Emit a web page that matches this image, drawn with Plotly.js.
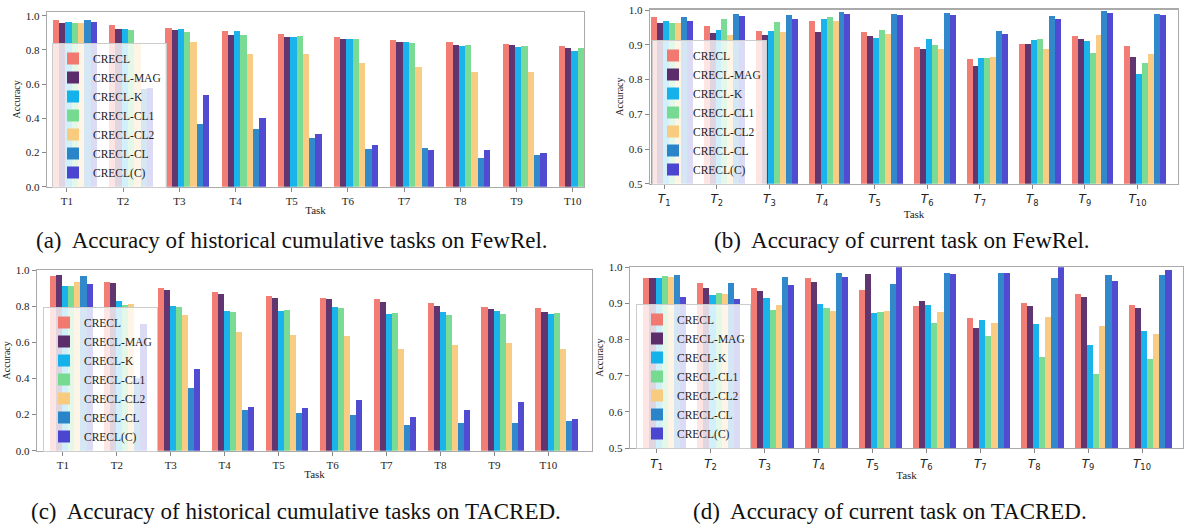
<!DOCTYPE html>
<html>
<head>
<meta charset="utf-8">
<script src="https://cdn.plot.ly/plotly-3.0.1.min.js"></script>
<style>html,body{margin:0;padding:0;background:#fff;}#chart{width:1184px;height:524px;}</style>
</head>
<body>
<div id="chart"></div>
<script>
// ---- Data ----
const tasks = ['T1','T2','T3','T4','T5','T6','T7','T8','T9','T10'];
const seriesNames = ['CRECL','CRECL-MAG','CRECL-K','CRECL-CL1','CRECL-CL2','CRECL-CL','CRECL(C)'];

// (a) historical cumulative tasks, FewRel
const a_CRECL = [0.975,0.945,0.926,0.908,0.893,0.873,0.856,0.844,0.834,0.821];
const a_MAG   = [0.959,0.922,0.916,0.887,0.877,0.867,0.844,0.828,0.827,0.809];
const a_K     = [0.963,0.922,0.920,0.908,0.877,0.864,0.844,0.825,0.815,0.791];
const a_CL1   = [0.955,0.916,0.903,0.889,0.881,0.867,0.840,0.828,0.825,0.809];
const a_CL2   = [0.955,0.838,0.844,0.776,0.776,0.721,0.700,0.671,0.671,null];
const a_CL    = [0.975,0.570,0.368,0.339,0.283,0.218,0.226,0.170,0.185,null];
const a_C     = [0.965,0.580,0.534,0.400,0.306,0.242,0.214,0.214,0.195,null];

// (b) current task, FewRel
const b_CRECL = [0.979,0.955,0.941,0.970,0.937,0.893,0.858,0.902,0.926,0.896];
const b_MAG   = [0.964,0.933,0.929,0.937,0.926,0.887,0.839,0.902,0.918,0.864];
const b_K     = [0.970,0.944,0.940,0.975,0.921,0.918,0.863,0.915,0.910,0.816];
const b_CL1   = [0.962,0.975,0.966,0.979,0.943,0.900,0.863,0.916,0.876,0.848];
const b_CL2   = [0.962,0.928,0.938,0.970,0.930,0.887,0.864,0.887,0.928,0.874];
const b_CL    = [0.979,0.988,0.985,0.996,0.990,0.992,0.940,0.984,0.997,0.988];
const b_C     = [0.968,0.983,0.974,0.988,0.987,0.986,0.932,0.976,0.992,0.986];

// (c) historical cumulative tasks, TACRED
const c_CRECL = [0.969,0.932,0.899,0.880,0.858,0.843,0.838,0.817,0.795,0.788];
const c_MAG   = [0.972,0.928,0.887,0.865,0.847,0.838,0.821,0.803,0.782,0.769];
const c_K     = [0.913,0.828,0.799,0.773,0.773,0.793,0.758,0.769,0.773,0.758];
const c_CL1   = [0.913,0.806,0.793,0.766,0.780,0.790,0.762,0.751,0.758,0.762];
const c_CL2   = [0.932,0.810,0.751,0.655,0.638,0.635,0.563,0.585,0.594,0.563];
const c_CL    = [0.969,0.400,0.349,0.225,0.206,0.197,0.140,0.151,0.155,0.162];
const c_C     = [0.921,0.699,0.450,0.242,0.234,0.279,0.184,0.223,0.269,0.175];

// (d) current task, TACRED
const d_CRECL = [0.970,0.956,0.943,0.970,0.938,0.893,0.859,0.902,0.926,0.897];
const d_MAG   = [0.970,0.943,0.935,0.958,0.981,0.907,0.832,0.893,0.917,0.886];
const d_K     = [0.969,0.924,0.914,0.899,0.873,0.896,0.854,0.842,0.785,0.825];
const d_CL1   = [0.977,0.930,0.883,0.887,0.876,0.845,0.811,0.753,0.705,0.745];
const d_CL2   = [0.972,0.926,0.895,0.878,0.880,0.876,0.847,0.862,0.838,0.815];
const d_CL    = [0.978,0.956,0.974,0.983,0.953,0.983,0.983,0.970,0.979,0.979];
const d_C     = [0.919,0.911,0.952,0.974,1.000,0.982,0.983,1.000,0.961,0.993];

const captions = [
  '(a)  Accuracy of historical cumulative tasks on FewRel.',
  '(b)  Accuracy of current task on FewRel.',
  '(c)  Accuracy of historical cumulative tasks on TACRED.',
  '(d)  Accuracy of current task on TACRED.'
];

// ---- Styling ----
const colors = ['#F27970','#5B2E6B','#14B1EB','#76DA91','#F8CB7F','#2A84C8','#4B45CF'];
const serif = 'Liberation Serif, Times New Roman, serif';

const panels = [
  {series:[a_CRECL,a_MAG,a_K,a_CL1,a_CL2,a_CL,a_C], start:-0.25, w:0.112, math:false},
  {series:[b_CRECL,b_MAG,b_K,b_CL1,b_CL2,b_CL,b_C], start:-0.25, w:0.113, math:true},
  {series:[c_CRECL,c_MAG,c_K,c_CL1,c_CL2,c_CL,c_C], start:-0.24, w:0.113, math:false},
  {series:[d_CRECL,d_MAG,d_K,d_CL1,d_CL2,d_CL,d_C], start:-0.25, w:0.114, math:true}
];

const xpos = tasks.map((t,i)=>i);
const traces = [];
panels.forEach((p,pi)=>{
  const ax = pi===0 ? '' : String(pi+1);
  p.series.forEach((vals,si)=>{
    traces.push({
      type:'bar',
      x: xpos, y: vals,
      name: seriesNames[si],
      xaxis:'x'+ax, yaxis:'y'+ax,
      offset: p.start + si*p.w,
      width: p.w,
      marker:{color:colors[si], opacity:0.97, line:{width:0}},
      legend: pi===0 ? 'legend' : 'legend'+(pi+1),
      showlegend:true,
      hoverinfo:'skip'
    });
  });
});

const W=1184, H=524;
const px = v=>v/W, py = v=>1-v/H;

function xax(domL, domR, range, math, anchor){
  return {
    domain:[px(domL),px(domR)], range:range, anchor:anchor,
    tickvals: xpos,
    ticktext: math ? tasks.map(t=>'<i>T</i><sub>'+t.slice(1)+'</sub>') : tasks,
    tickfont:{family: math ? 'DejaVu Sans, sans-serif' : serif, size: math?12:11, color:'#222'},
    ticks:'outside', ticklen:4, tickcolor:'#888', tickwidth:1,
    showline:true, linecolor:'#aaa', linewidth:1.2, mirror:true,
    showgrid:false, zeroline:false,
    title:{text:'Task', font:{family:serif, size:11, color:'#222'}, standoff:0}
  };
}
function yax(domB, domT, range, dtick, anchor){
  return {
    domain:[py(domB),py(domT)], range:range, anchor:anchor,
    dtick:dtick, tick0:0, tickformat:'.1f',
    tickfont:{family:serif, size:11, color:'#222'},
    ticks:'outside', ticklen:4, tickcolor:'#888', tickwidth:1,
    showline:true, linecolor:'#aaa', linewidth:1.2, mirror:true,
    showgrid:false, zeroline:false,
    title:{text:'Accuracy', font:{family:serif, size:10, color:'#222'}, standoff:3}
  };
}
function leg(xp, yp){
  return {x:px(xp), y:py(yp), xanchor:'left', yanchor:'top',
    bgcolor:'rgba(255,255,255,0.8)', bordercolor:'#ccc', borderwidth:1,
    font:{family:serif, size:11.5, color:'#222'}, tracegroupgap:0, itemwidth:30};
}

const layout = {
  width:W, height:H, margin:{l:0,r:0,t:0,b:0},
  paper_bgcolor:'#fff', plot_bgcolor:'#fff',
  barmode:'overlay', bargap:0,
  xaxis:  xax(47, 584, [-0.355, 9.2], false, 'y'),
  yaxis:  yax(186.7, 12, [0, 1.022], 0.2, 'x'),
  xaxis2: xax(650, 1178, [-0.27, 9.77], true, 'y2'),
  yaxis2: yax(183.7, 9.5, [0.5, 1.002], 0.1, 'x2'),
  xaxis3: xax(37, 592, [-0.48, 9.81], false, 'y3'),
  yaxis3: yax(450.7, 270, [0, 1.0], 0.2, 'x3'),
  xaxis4: xax(630, 1183, [-0.495, 9.76], true, 'y4'),
  yaxis4: yax(448, 267.3, [0.5, 1.0], 0.1, 'x4'),
  legend:  leg(52, 43),
  legend2: leg(652, 40),
  legend3: leg(43, 307),
  legend4: leg(636, 304),
  annotations: [
    {text:captions[0], x:px(292), y:py(240)},
    {text:captions[1], x:px(902), y:py(240)},
    {text:captions[2], x:px(296), y:py(511)},
    {text:captions[3], x:px(890), y:py(511)}
  ].map(a=>Object.assign(a,{xref:'paper', yref:'paper', showarrow:false, xanchor:'center', yanchor:'middle',
      font:{family:serif, size:23, color:'#111'}}))
};

Plotly.newPlot('chart', traces, layout, {displayModeBar:false, staticPlot:true});
</script>
</body>
</html>
